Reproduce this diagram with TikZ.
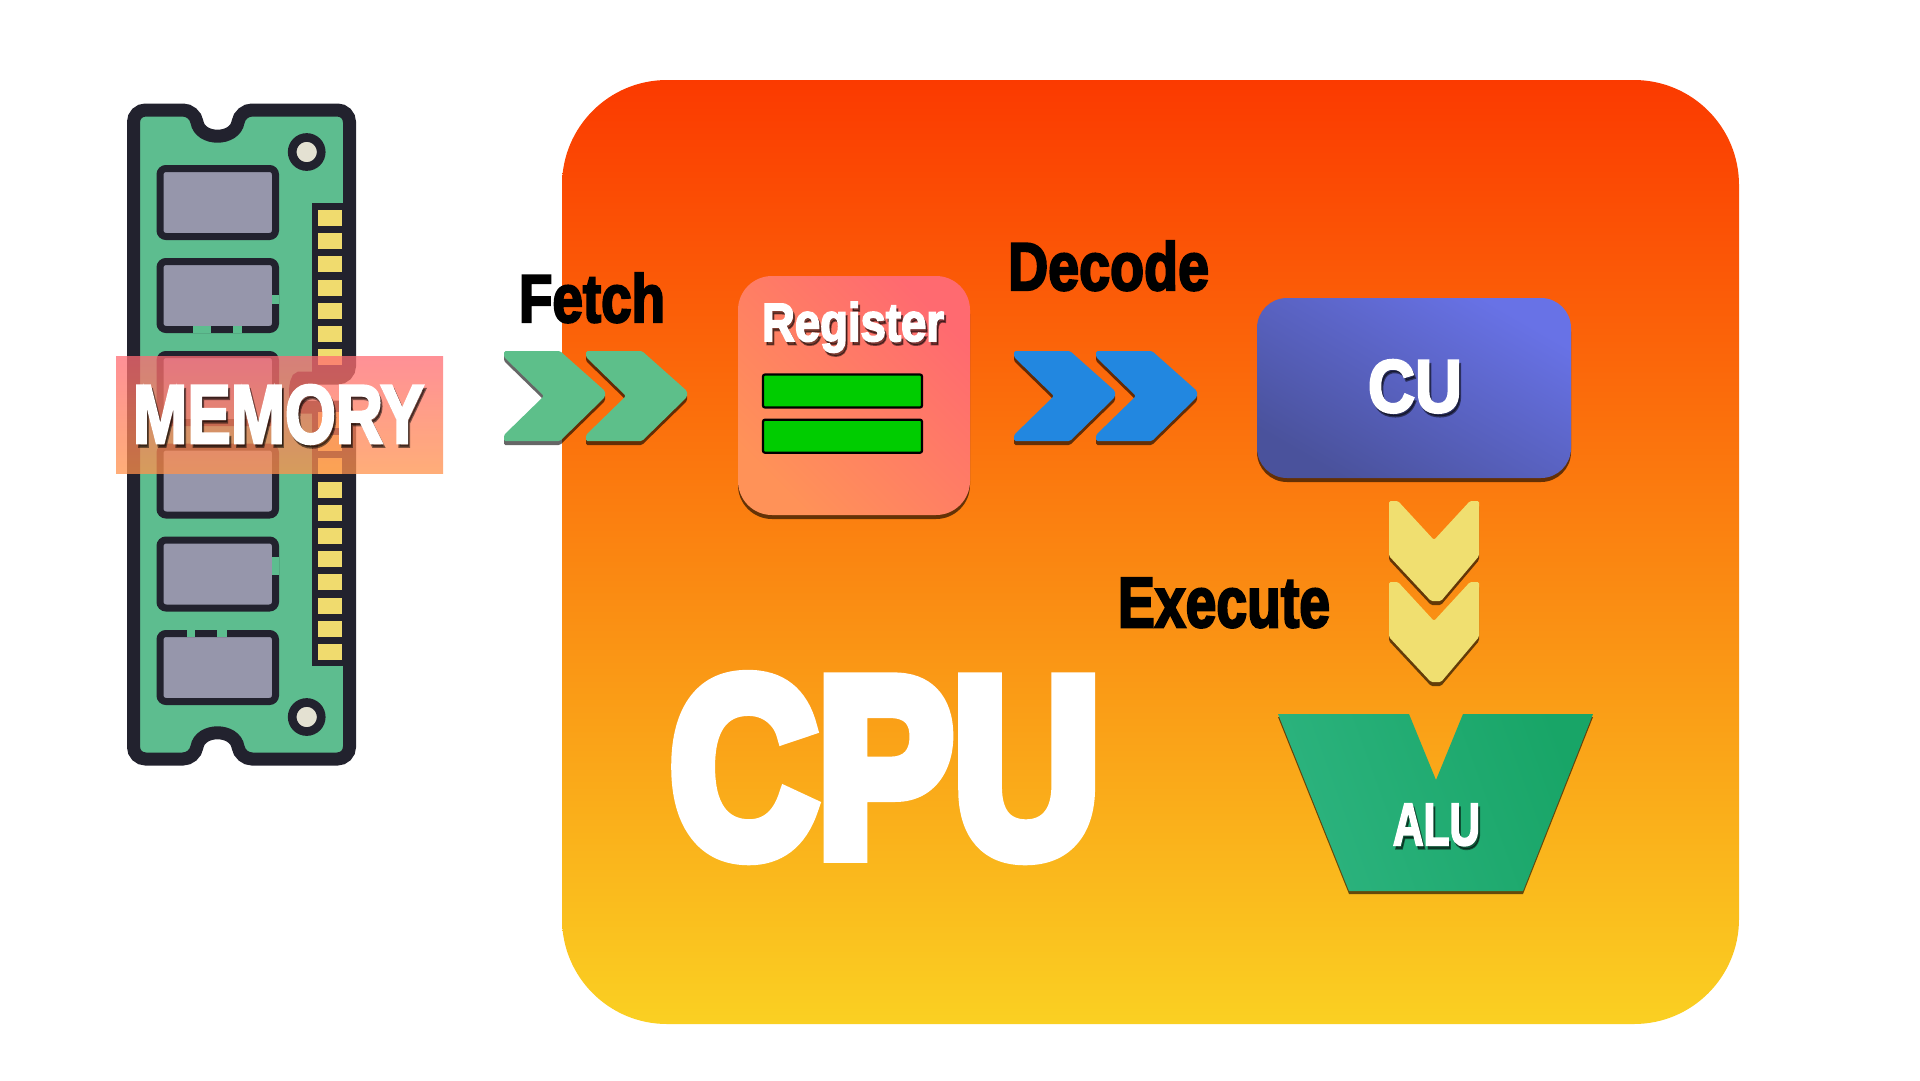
\documentclass[tikz,border=0pt]{standalone}
\usepackage{fontspec}
\usepackage{graphicx}
\usetikzlibrary{positioning,shadows}
\newfontfamily\heavyfont[BoldFeatures={FakeBold=3.5}]{Liberation Sans}
\newfontfamily\hugefont[BoldFeatures={FakeBold=7}]{Liberation Sans}
\definecolor{boardgreen}{HTML}{5DBD8F}
\definecolor{boardink}{HTML}{22222E}
\definecolor{chipgray}{HTML}{9696AB}
\definecolor{padgold}{HTML}{F0DB6E}
\definecolor{holecream}{HTML}{E4E1D2}
\definecolor{fetchgreen}{HTML}{5DBF8A}
\definecolor{decodeblue}{HTML}{2287E0}
\definecolor{executeyellow}{HTML}{F0DF70}
\newcommand{\fittext}[3]{\resizebox{#1pt}{#2pt}{\heavyfont\bfseries #3}}
\newcommand{\shadowlabel}[6]{%
  \node[labeltext,text=black,opacity=.5,xshift=2pt,yshift=-3.5pt] (#1shadow) at (#2,#3) {\fittext{#4}{#5}{#6}};
  \node[labeltext,text=white] (#1) at (#2,#3) {\fittext{#4}{#5}{#6}};
}
\newcommand{\chipbox}[1]{\draw[chip] (160,#1) rectangle (275.5,#1+68);}
\tikzset{
  labeltext/.style={anchor=base west,inner sep=0pt,outer sep=0pt},
  chip/.style={draw=boardink,fill=chipgray,line width=7pt,rounded corners=6pt},
  chipgap/.style={draw=boardgreen,line width=7.5pt},
  hole/.style={circle,draw=boardink,fill=holecream,line width=8.7pt,minimum size=29pt,inner sep=0pt},
  downshadow/.style={drop shadow={shadow xshift=0pt,shadow yshift=-4pt,fill=black,opacity=.6}},
  barcell/.style={rectangle,draw=black,fill=green!80!black,line width=2.2pt,rounded corners=2pt,
              minimum width=159pt,minimum height=33pt,inner sep=0pt},
  chevronright/.pic={
    \path[fill=#1,downshadow,rounded corners=1.5pt] (0,0) -- (56,0) -- (101,40) -- (101,46) -- (56,90) -- (0,90) -- (0,84) -- (40,45) -- (0,6) -- cycle;
  },
  chevrondown/.pic={
    \path[fill=#1,downshadow,rounded corners=1.5pt] (0,0) -- (9,0) -- (45,39) -- (81,0) -- (90,0) -- (90,55) -- (52,100) -- (42,100) -- (0,55) -- cycle;
  }
}
\begin{document}
\begin{tikzpicture}[x=1pt,y=-1pt]
  \useasboundingbox (0,0) rectangle (1920,1080);
  \node [rectangle,rounded corners=105pt,minimum width=1177pt,minimum height=944pt,
         top color={rgb,255:red,251;green,58;blue,0},middle color={rgb,255:red,254;green,146;blue,19},
         bottom color={rgb,255:red,250;green,208;blue,34}] (cpu) at (1150.5,552) {};
  \draw[draw=boardink,fill=boardgreen,line width=13pt,rounded corners=12pt]
    (165,110) -- (133.5,110) -- (133.5,759) -- (195,759)
    .. controls (200,728) and (235,728) .. (240,759)
    -- (349.5,759) -- (349.5,407) -- (312,407)
    .. controls (294,407) and (294,378) .. (312,378)
    -- (349.5,378) -- (349.5,110) -- (240,110)
    .. controls (235,141) and (200,141) .. (195,110) -- cycle;
  \chipbox{168.5}
  \chipbox{261.5}
  \chipbox{354.5}
  \chipbox{447}
  \chipbox{540}
  \chipbox{633.5}
  \draw[chipgap] (193,329.5) -- (211,329.5) (233,329.5) -- (242,329.5) (275.5,295) -- (275.5,304);
  \draw[chipgap] (275.5,557) -- (275.5,575);
  \draw[chipgap] (187,633.5) -- (195,633.5) (217,633.5) -- (227,633.5);
  \fill[boardink] (312,203) rectangle (350,378);
  \fill[boardink] (312,407) rectangle (350,666);
  \foreach \k in {0,...,6}
    \fill[padgold] (318,210+23.2*\k) rectangle (342,226+23.2*\k);
  \foreach \k in {0,...,10}
    \fill[padgold] (318,412+23.2*\k) rectangle (342,428+23.2*\k);
  \node [hole] (holetop) at (306.7,152) {};
  \node [hole] (holebottom) at (306.7,717) {};
  \node [rectangle,fill opacity=.75,minimum width=327pt,minimum height=117pt,
         top color={rgb,255:red,255;green,107;blue,115},bottom color={rgb,255:red,255;green,146;blue,75}] (memoryband) at (279.5,415) {};
  \shadowlabel{memorylabel}{133}{443}{291}{58}{MEMORY}
  \node[labeltext,text=black] (fetchlabel) at (519,322) {\fittext{146}{49}{Fetch}};
  \node[labeltext,text=black] (decodelabel) at (1008,290) {\fittext{201}{49}{Decode}};
  \node[labeltext,text=black] (executelabel) at (1118,627) {\fittext{212}{49}{Execute}};
  \node[labeltext,text=white] (cpulabel) at (670,854) {\resizebox{430pt}{175pt}{\hugefont\bfseries CPU}};
  \path (504,351) pic (fetchA) {chevronright=fetchgreen};
  \path (586,351) pic (fetchB) {chevronright=fetchgreen};
  \path (1014,351) pic (decodeA) {chevronright=decodeblue};
  \path (1096,351) pic (decodeB) {chevronright=decodeblue};
  \path (1389,501) pic (executeA) {chevrondown=executeyellow};
  \path (1389,582) pic (executeB) {chevrondown=executeyellow};
  \node [rectangle,rounded corners=34pt,minimum width=232pt,minimum height=239pt,downshadow,
         top color={rgb,255:red,255;green,106;blue,112},bottom color={rgb,255:red,255;green,146;blue,88},shading angle=-45] (register) at (854,395.5) {};
  \shadowlabel{registerlabel}{762}{341}{182}{39}{Register}
  \node [barcell] (regbarA) at (842.5,391) {};
  \node [barcell,below=10pt of regbarA] (regbarB) {};
  \node [rectangle,rounded corners=30pt,minimum width=314pt,minimum height=180pt,downshadow,
         top color={rgb,255:red,104;green,114;blue,230},bottom color={rgb,255:red,74;green,82;blue,156},shading angle=-30] (cu) at (1414,388) {};
  \shadowlabel{culabel}{1368}{412}{94}{52}{CU}
  \shade[top color={rgb,255:red,24;green,165;blue,103},bottom color={rgb,255:red,44;green,179;blue,126},shading angle=-70,
         drop shadow={shadow xshift=0pt,shadow yshift=-3pt,fill=black,opacity=.6}]
    (1278,714) -- (1409,714) -- (1436,780) -- (1463,714) -- (1593,714) -- (1523,891) -- (1349,891) -- cycle;
  \shadowlabel{alulabel}{1393}{845}{87}{41}{ALU}
\end{tikzpicture}
\end{document}
